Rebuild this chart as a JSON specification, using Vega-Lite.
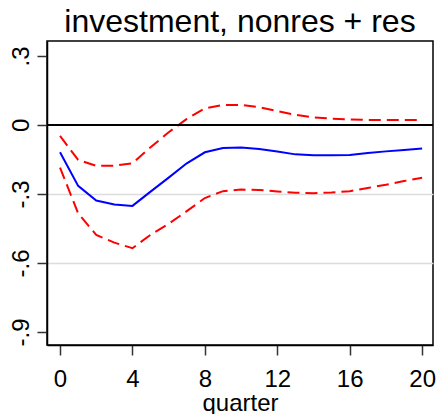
{
  "$schema": "https://vega.github.io/schema/vega-lite/v6.json",
  "autosize": "none",
  "width": 386,
  "height": 304,
  "padding": {"left": 47, "top": 41, "right": 6, "bottom": 69},
  "background": "white",
  "config": {
    "font": "Liberation Sans",
    "view": {"stroke": "black", "strokeWidth": 1.5},
    "axis": {"labelFont": "Liberation Sans", "titleFont": "Liberation Sans"}
  },
  "title": {
    "text": "investment, nonres + res",
    "font": "Liberation Sans",
    "fontSize": 32,
    "fontWeight": "normal",
    "color": "black",
    "anchor": "middle",
    "frame": "group",
    "baseline": "alphabetic",
    "offset": 8,
    "dy": 31
  },
  "data": {
    "values": [
      {"q": 0, "irf": -0.119, "lo": -0.186, "hi": -0.048},
      {"q": 1, "irf": -0.265, "lo": -0.384, "hi": -0.152},
      {"q": 2, "irf": -0.329, "lo": -0.478, "hi": -0.178},
      {"q": 3, "irf": -0.346, "lo": -0.512, "hi": -0.177},
      {"q": 4, "irf": -0.352, "lo": -0.536, "hi": -0.167},
      {"q": 5, "irf": -0.29, "lo": -0.478, "hi": -0.097},
      {"q": 6, "irf": -0.229, "lo": -0.43, "hi": -0.032},
      {"q": 7, "irf": -0.167, "lo": -0.375, "hi": 0.026},
      {"q": 8, "irf": -0.119, "lo": -0.318, "hi": 0.072},
      {"q": 9, "irf": -0.1, "lo": -0.288, "hi": 0.087},
      {"q": 10, "irf": -0.098, "lo": -0.281, "hi": 0.087},
      {"q": 11, "irf": -0.105, "lo": -0.283, "hi": 0.077},
      {"q": 12, "irf": -0.116, "lo": -0.289, "hi": 0.06},
      {"q": 13, "irf": -0.128, "lo": -0.295, "hi": 0.044},
      {"q": 14, "irf": -0.132, "lo": -0.297, "hi": 0.033},
      {"q": 15, "irf": -0.132, "lo": -0.294, "hi": 0.027},
      {"q": 16, "irf": -0.131, "lo": -0.288, "hi": 0.024},
      {"q": 17, "irf": -0.122, "lo": -0.274, "hi": 0.022},
      {"q": 18, "irf": -0.115, "lo": -0.26, "hi": 0.021},
      {"q": 19, "irf": -0.109, "lo": -0.244, "hi": 0.021},
      {"q": 20, "irf": -0.103, "lo": -0.23, "hi": 0.021}
    ]
  },
  "encoding": {
    "x": {
      "field": "q",
      "type": "quantitative",
      "scale": {"domain": [-0.72, 20.6], "nice": false, "zero": false},
      "axis": {
        "values": [0, 4, 8, 12, 16, 20],
        "title": "quarter",
        "titleFontSize": 24,
        "titleFontWeight": "normal",
        "titleColor": "black",
        "titlePadding": 0,
        "labelFontSize": 24,
        "labelColor": "black",
        "labelPadding": 12,
        "tickSize": 10,
        "tickWidth": 1.5,
        "tickColor": "#333333",
        "domainColor": "black",
        "domainWidth": 1.5,
        "grid": false
      }
    }
  },
  "layer": [
    {
      "mark": {"type": "line", "color": "blue", "strokeWidth": 2},
      "encoding": {
        "y": {
          "field": "irf",
          "type": "quantitative",
          "scale": {"domain": [-0.957, 0.365], "nice": false, "zero": false},
          "axis": {
            "values": [0.3, 0, -0.3, -0.6, -0.9],
            "labelExpr": "datum.value == 0 ? '0' : (datum.value < 0 ? '-' : '') + replace(format(abs(datum.value), '.1f'), '0.', '.')",
            "title": null,
            "labelFontSize": 24,
            "labelColor": "black",
            "labelAngle": -90,
            "labelAlign": "center",
            "labelBaseline": "alphabetic",
            "labelPadding": 9,
            "tickSize": 10,
            "tickWidth": 1.5,
            "tickColor": "#333333",
            "domainColor": "black",
            "domainWidth": 1.5,
            "grid": true,
            "gridColor": "#dcdcdc",
            "gridWidth": 1.5,
            "gridOpacity": {"condition": {"test": "datum.value < -0.1 && datum.value > -0.8", "value": 1}, "value": 0}
          }
        }
      }
    },
    {
      "mark": {"type": "line", "color": "red", "strokeWidth": 2, "strokeDash": [12, 6]},
      "encoding": {"y": {"field": "lo", "type": "quantitative"}}
    },
    {
      "mark": {"type": "line", "color": "red", "strokeWidth": 2, "strokeDash": [12, 6]},
      "encoding": {"y": {"field": "hi", "type": "quantitative"}}
    },
    {
      "mark": {"type": "rule", "color": "black", "strokeWidth": 1.5},
      "encoding": {"y": {"datum": 0}, "x": {}}
    }
  ]
}
